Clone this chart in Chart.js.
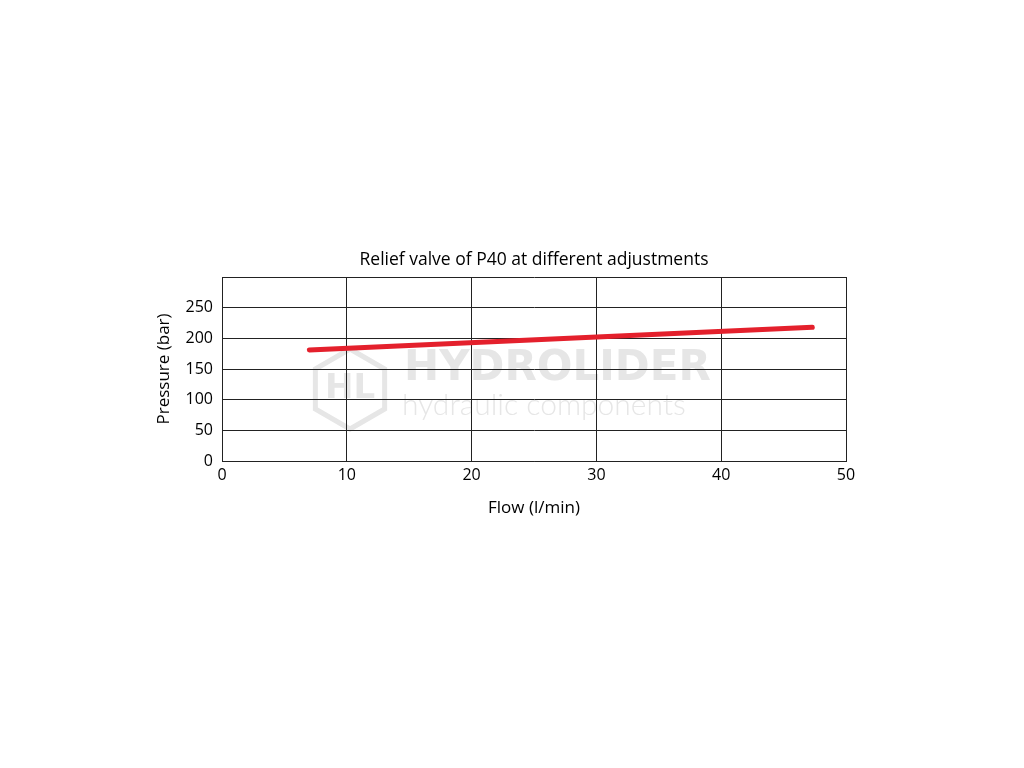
<!DOCTYPE html>
<html>
<head>
<meta charset="utf-8">
<script src="https://cdn.jsdelivr.net/npm/chart.js@4/dist/chart.umd.min.js"></script>
<style>
    html, body { margin: 0; padding: 0; background: #fff; }
    #wrap { width: 1024px; height: 768px; }
</style>
</head>
<body>
<div id="wrap"><canvas id="reliefChart" width="1024" height="768"></canvas></div>
<script>
    // Datos
    const flowValues = [7, 47.3];        // l/min
    const pressureValues = [181, 218];   // bar
    const yTickHidden = [300];           // la línea superior no lleva etiqueta

    const chartTitle = 'Relief valve of P40 at different adjustments';
    const xTitle = 'Flow (l/min)';
    const yTitle = 'Pressure (bar)';
    const watermarkMain = 'HYDROLIDER';
    const watermarkSub = 'hydraulic components';

    const fontFamily = "'Open Sans', 'Noto Sans', sans-serif";

    // Marca de agua detrás de la rejilla
    const watermark = {
        id: 'watermark',
        beforeDraw(chart) {
            const c = chart.ctx;
            c.save();
            c.strokeStyle = '#e6e6e6';
            c.fillStyle = '#e6e6e6';
            // hexágono del logo
            const cx = 350, cy = 389, r = 40;
            c.lineWidth = 5;
            c.beginPath();
            for (let i = 0; i < 6; i++) {
                const a = Math.PI / 3 * i + Math.PI / 6;
                const px = cx + r * Math.cos(a), py = cy + r * Math.sin(a);
                if (i === 0) c.moveTo(px, py); else c.lineTo(px, py);
            }
            c.closePath();
            c.stroke();
            c.font = "bold 34px 'DejaVu Sans', sans-serif";
            c.textAlign = 'center';
            c.textBaseline = 'middle';
            c.fillText('HL', cx, cy);
            // textos
            c.textAlign = 'left';
            c.font = "bold 42px 'DejaVu Sans', sans-serif";
            c.fillText(watermarkMain, 404, 369, 308);
            c.font = "300 30px Lato, sans-serif";
            c.fillText(watermarkSub, 402, 405, 304);
            c.restore();
        }
    };

    const ctx = document.getElementById('reliefChart').getContext('2d');
    const chart = new Chart(ctx, {
        type: 'line',
        data: {
            datasets: [{
                label: 'P40',
                data: flowValues.map((x, i) => ({ x: x, y: pressureValues[i] })),
                borderColor: '#e4202c',
                borderWidth: 5,
                borderCapStyle: 'round',
                pointRadius: 0,
                tension: 0
            }]
        },
        options: {
            responsive: false,
            animation: false,
            layout: { padding: { left: 150, right: 106, top: 242, bottom: 246 } },
            plugins: {
                legend: { display: false },
                tooltip: { enabled: false },
                title: {
                    display: true,
                    text: chartTitle,
                    color: '#000',
                    font: { family: fontFamily, size: 17.5, weight: 'normal' },
                    padding: { top: 8, bottom: 6 }
                }
            },
            scales: {
                x: {
                    type: 'linear',
                    min: 0,
                    max: 50,
                    ticks: {
                        stepSize: 10,
                        color: '#000',
                        padding: 5,
                        font: { family: fontFamily, size: 16 }
                    },
                    grid: { color: '#222', lineWidth: 1, drawTicks: false },
                    border: { color: '#222', width: 1 },
                    title: {
                        display: true,
                        text: xTitle,
                        color: '#000',
                        font: { family: fontFamily, size: 17 },
                        padding: { top: 14 }
                    },
                    afterFit(scale) { scale.height = 61; }
                },
                y: {
                    min: 0,
                    max: 300,
                    ticks: {
                        stepSize: 50,
                        color: '#000',
                        padding: 9,
                        font: { family: fontFamily, size: 16 },
                        callback: v => yTickHidden.includes(v) ? '' : v
                    },
                    grid: { color: '#222', lineWidth: 1, drawTicks: false },
                    border: { color: '#222', width: 1 },
                    title: {
                        display: true,
                        text: yTitle,
                        color: '#000',
                        font: { family: fontFamily, size: 17 },
                        padding: { bottom: 2 }
                    },
                    afterFit(scale) { scale.width = 72; }
                },
                // eje vacío a la derecha para centrar el título sobre el área del gráfico
                yRight: {
                    position: 'right',
                    display: true,
                    min: 0,
                    max: 300,
                    ticks: { display: false },
                    grid: { display: false },
                    border: { display: false },
                    afterFit(scale) { scale.width = 72; }
                }
            }
        },
        plugins: [watermark]
    });
</script>
</body>
</html>
